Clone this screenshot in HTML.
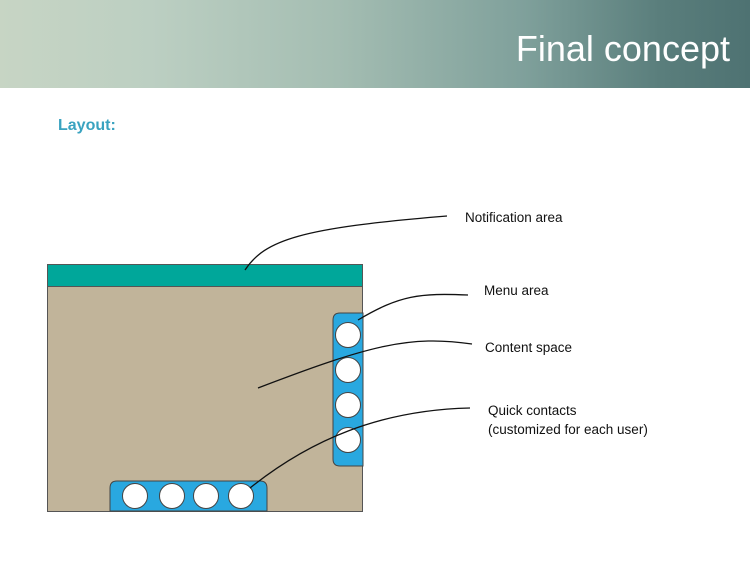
<!DOCTYPE html>
<html><head><style>
body{margin:0;width:750px;height:563px;background:#fff;position:relative;overflow:hidden;font-family:"Liberation Sans",sans-serif}
.hdr{position:absolute;left:0;top:0;width:750px;height:88px;background:linear-gradient(90deg,#c7d5c4 0%,#bccfc2 20%,#a4bdb2 45%,#7fa09b 70%,#5a7e7c 88%,#4e7272 100%)}
.t{position:absolute;right:20px;top:28px;color:#fff;font-size:36px}
.lay{position:absolute;left:58px;top:117px;color:#3aa3c0;font-weight:bold;font-size:16px}
.lb{position:absolute;font-size:13.5px;color:#111;line-height:19px}
</style></head><body>
<div class="hdr"><div class="t">Final concept</div></div>
<div class="lay">Layout:</div>
<svg width="750" height="563" style="position:absolute;left:0;top:0">
<rect x="47.5" y="264.5" width="315" height="247" fill="#c1b49a" stroke="#555" stroke-width="1"/>
<rect x="47.5" y="264.5" width="315" height="22" fill="#00a79a" stroke="#555" stroke-width="1"/>
<path d="M363,313 H340 Q333,313 333,320 V459 Q333,466 340,466 H363 Z" fill="#29a8e0" stroke="#444"/>
<path d="M110,511 V488 Q110,481 117,481 H260 Q267,481 267,488 V511 Z" fill="#29a8e0" stroke="#444"/>
<g fill="#fff" stroke="#444">
<circle cx="348" cy="335" r="12.5"/><circle cx="348" cy="370" r="12.5"/><circle cx="348" cy="405" r="12.5"/><circle cx="348" cy="440" r="12.5"/>
<circle cx="135" cy="496" r="12.5"/><circle cx="172" cy="496" r="12.5"/><circle cx="206" cy="496" r="12.5"/><circle cx="241" cy="496" r="12.5"/>
</g>
<g fill="none" stroke="#111" stroke-width="1.3">
<path d="M245,270 C265,240 300,228 447,216"/>
<path d="M358,320 C400,295 420,293 468,295"/>
<path d="M258,388 C370,345 410,335 472,344"/>
<path d="M250,488 C310,440 380,410 470,408"/>
</g>
</svg>
<div class="lb" style="left:465px;top:208px">Notification area</div>
<div class="lb" style="left:484px;top:281px">Menu area</div>
<div class="lb" style="left:485px;top:338px">Content space</div>
<div class="lb" style="left:488px;top:401px">Quick contacts<br>(customized for each user)</div>
</body></html>
